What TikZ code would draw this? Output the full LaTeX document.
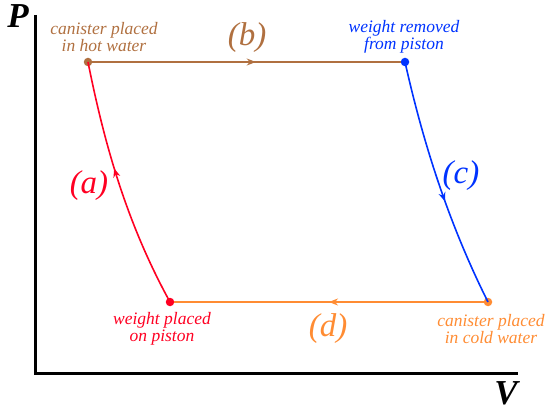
\documentclass[tikz,border=0pt]{standalone}
\usepackage{fontspec}
\setmainfont{Liberation Serif}
\usetikzlibrary{arrows.meta, decorations.markings}

\definecolor{hotbrown}{RGB}{176,112,64}
\definecolor{liftblue}{RGB}{0,51,255}
\definecolor{loadred}{RGB}{255,0,34}
\definecolor{coldorange}{RGB}{255,140,51}

\begin{document}
\begin{tikzpicture}[x=1pt, y=-1pt,
  dot/.style={circle, fill, inner sep=0pt, minimum size=8.5pt},
  note/.style={font=\itshape\fontsize{17.5}{17}\selectfont, align=center, inner sep=0pt},
  stage/.style={font=\itshape\fontsize{33}{36}\selectfont, inner sep=0pt},
  axislabel/.style={font=\bfseries\itshape\fontsize{35}{40}\selectfont, inner sep=0pt},
  process/.style={line width=1.6pt, postaction={decorate},
    decoration={markings, mark=at position #1 with {\arrow{Stealth[length=9pt, width=7pt]}}}},
  process/.default=0.5]
  \useasboundingbox (0,0) rectangle (550,412);

  % axes
  \coordinate (top) at (35,15);
  \coordinate (origin) at (35,373);
  \coordinate (right) at (518,373);
  \draw[line width=3pt] (top) -- (origin) -- (right);
  \node[axislabel] (P) at (18,16) {P};
  \node[axislabel] (V) at (506,393) {V};

  % states of the cycle
  \node[dot, hotbrown] (hot) at (88,62) {};
  \node[dot, liftblue] (lift) at (405,62) {};
  \node[dot, coldorange] (cold) at (488,302) {};
  \node[dot, loadred] (load) at (170,302) {};

  % processes
  \draw[process=0.53, hotbrown] (hot) -- (lift);
  \draw[process=0.57, liftblue] (lift.center) .. controls (423,142) and (448,222) .. (cold.center);
  \draw[process=0.5, coldorange] (cold) -- (load);
  \draw[process=0.57, loadred] (load.center) .. controls (126,222) and (104,142) .. (hot.center);

  % labels
  \node[stage, hotbrown] (b) at (247,38) {(b)};
  \node[stage, loadred] (a) at (89,186) {(a)};
  \node[stage, liftblue] (c) at (461,176) {(c)};
  \node[stage, coldorange] (d) at (328,329) {(d)};

  \node[note, hotbrown] (hotnote) at (104,37) {canister placed\\in hot water};
  \node[note, liftblue] (liftnote) at (404,37) {weight removed\\from piston};
  \node[note, loadred] (loadnote) at (162,329) {weight placed\\on piston};
  \node[note, coldorange] (coldnote) at (491,329) {canister placed\\in cold water};
\end{tikzpicture}
\end{document}
